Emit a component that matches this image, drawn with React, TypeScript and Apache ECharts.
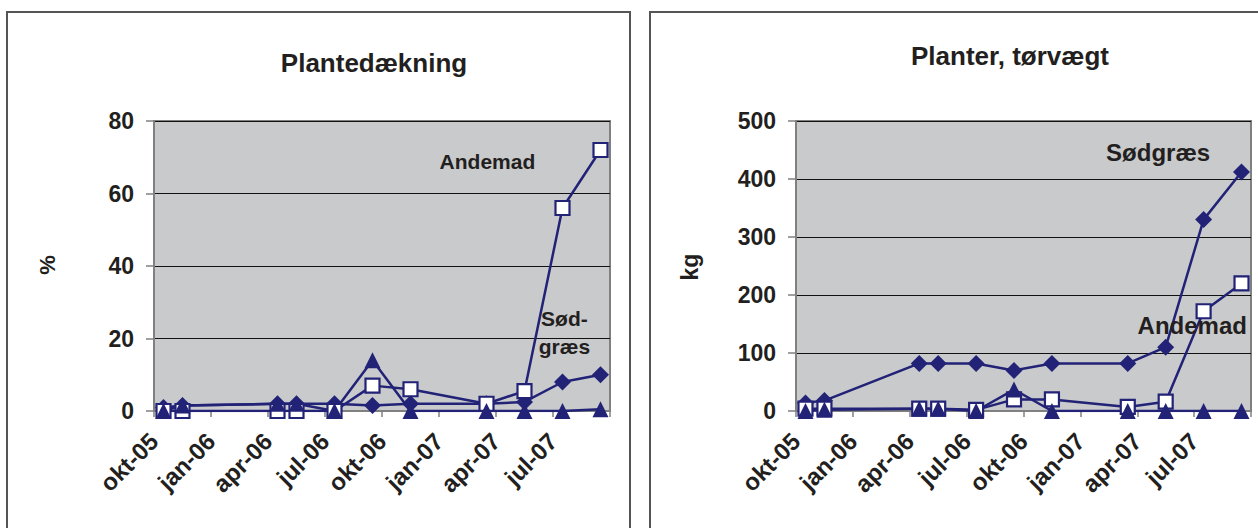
import React, { useEffect, useRef } from "react";
import * as echarts from "echarts";

// ---- data ----
const sampleMonths = [
  "2005-10", "2005-11", "2006-04", "2006-05", "2006-07", "2006-09",
  "2006-11", "2007-03", "2007-05", "2007-07", "2007-09",
];
const axisStartMonth = "2005-10";
const tickLabels = ["okt-05", "jan-06", "apr-06", "jul-06", "okt-06", "jan-07", "apr-07", "jul-07"];

// Plantedækning (%)
const coverSoedgraes = [1, 1.5, 2, 2, 2, 1.5, 2, 2, 2.5, 8, 10];
const coverAndemad = [0, 0, 0, 0, 0, 7, 6, 2, 5.5, 56, 72];
const coverOther = [0, 1.5, 2, 2, 0, 14, 0, 0, 0, 0, 0.5];

// Planter, tørvægt (kg)
const weightSoedgraes = [14, 18, 82, 82, 82, 70, 82, 82, 110, 330, 412];
const weightAndemad = [4, 4, 4, 4, 2, 20, 20, 7, 16, 172, 220];
const weightOther = [0, 2, 4, 4, 0, 37, 0, 0, 0, 0, 0];

const FONT = "'Liberation Sans', Arial, sans-serif";
const NAVY = "#222277";
const TEXT = "#231f20";
const PLOT_BG = "#c9cacc";

function monthIndex(s: string): number {
  const [y, m] = s.split("-").map(Number);
  const [y0, m0] = axisStartMonth.split("-").map(Number);
  return (y - y0) * 12 + (m - m0);
}

function pairs(vals: number[]): number[][] {
  return sampleMonths.map((d, i) => [monthIndex(d) + 0.5, vals[i]]);
}

function makeSeries(grid: number, soed: number[], ande: number[], other: number[]) {
  const common = {
    type: "line",
    xAxisIndex: grid,
    yAxisIndex: grid,
    lineStyle: { color: NAVY, width: 2.5 },
    showAllSymbol: true,
  };
  return [
    {
      ...common,
      name: "Sødgræs",
      data: pairs(soed),
      symbol: "diamond",
      symbolSize: 17,
      itemStyle: { color: NAVY, borderColor: NAVY, borderWidth: 0 },
    },
    {
      ...common,
      name: "Andemad",
      data: pairs(ande),
      symbol: "rect",
      symbolSize: 14,
      itemStyle: { color: "#ffffff", borderColor: NAVY, borderWidth: 2.2 },
    },
    {
      ...common,
      name: "Øvrige",
      data: pairs(other),
      symbol: "triangle",
      symbolSize: 16,
      itemStyle: { color: NAVY, borderColor: NAVY, borderWidth: 0 },
    },
  ];
}

function xAxisDef(grid: number) {
  return {
    type: "value",
    gridIndex: grid,
    min: 0,
    max: 24,
    interval: 3,
    axisLine: { show: true, lineStyle: { color: "#808080", width: 2 } },
    axisTick: { show: true, length: 6, inside: false, lineStyle: { color: "#808080", width: 1.5 } },
    splitLine: { show: false },
    axisLabel: {
      rotate: 45,
      margin: 26,
      fontSize: 24,
      fontWeight: "bold",
      fontFamily: FONT,
      color: TEXT,
      formatter: (v: number) => tickLabels[Math.round(v / 3)] ?? "",
      showMaxLabel: true,
    },
  };
}

function yAxisDef(grid: number, max: number, interval: number) {
  return {
    type: "value",
    gridIndex: grid,
    min: 0,
    max,
    interval,
    axisLine: { show: true, lineStyle: { color: "#808080", width: 2 } },
    axisTick: { show: true, length: 8, lineStyle: { color: "#808080", width: 1.5 } },
    splitLine: { show: true, lineStyle: { color: "#111111", width: 1 } },
    axisLabel: {
      margin: 20,
      fontSize: 23,
      fontWeight: "bold",
      fontFamily: FONT,
      color: TEXT,
    },
  };
}

// annotations in data coordinates (month units, value units)
const annotationGrid = [0, 0, 1, 1];
const annotationText = ["Andemad", "Sød-\ngræs", "Sødgræs", "Andemad"];
const annotationX = [17.55, 21.6, 19.1, 20.9];
const annotationY = [68.7, 21.6, 446, 148];
const annotationSize = [21, 21, 24, 24];

export default function App() {
  const ref = useRef<HTMLDivElement>(null);

  useEffect(() => {
    if (!ref.current) return;
    const chart = echarts.init(ref.current, null, { renderer: "svg" });
    const gridCommon = {
      show: true,
      backgroundColor: PLOT_BG,
      borderColor: "#808080",
      borderWidth: 2,
      containLabel: false,
      outerBoundsMode: "none",
    };
    chart.setOption({
      animation: false,
      backgroundColor: "#ffffff",
      grid: [
        { ...gridCommon, left: 154, top: 121, width: 456, height: 290 },
        { ...gridCommon, left: 796, top: 121, width: 455, height: 290 },
      ],
      xAxis: [xAxisDef(0), xAxisDef(1)],
      yAxis: [yAxisDef(0, 80, 20), yAxisDef(1, 500, 100)],
      series: [
        ...makeSeries(0, coverSoedgraes, coverAndemad, coverOther),
        ...makeSeries(1, weightSoedgraes, weightAndemad, weightOther),
      ],
    });

    const annos = annotationText.map((t, i) => {
      const p = chart.convertToPixel({ gridIndex: annotationGrid[i] }, [annotationX[i], annotationY[i]]) as number[];
      return {
        type: "text",
        x: p[0],
        y: p[1],
        z: 100,
        style: {
          text: t,
          fill: TEXT,
          font: `bold ${annotationSize[i]}px ${FONT}`,
          align: "center",
          verticalAlign: "middle",
          lineHeight: 28,
        },
      };
    });

    chart.setOption({
      graphic: [
        {
          type: "rect",
          shape: { x: 7, y: 12, width: 623, height: 540 },
          style: { fill: "none", stroke: "#555555", lineWidth: 2 },
          silent: true,
        },
        {
          type: "rect",
          shape: { x: 650, y: 12, width: 640, height: 540 },
          style: { fill: "none", stroke: "#555555", lineWidth: 2 },
          silent: true,
        },
        {
          type: "text",
          x: 374,
          y: 63,
          style: { text: "Plantedækning", fill: TEXT, font: `bold 26px ${FONT}`, align: "center", verticalAlign: "middle" },
        },
        {
          type: "text",
          x: 1010,
          y: 56,
          style: { text: "Planter, tørvægt", fill: TEXT, font: `bold 26px ${FONT}`, align: "center", verticalAlign: "middle" },
        },
        {
          type: "text",
          x: 47,
          y: 265,
          rotation: Math.PI / 2,
          style: { text: "%", fill: TEXT, font: `bold 22px ${FONT}`, align: "center", verticalAlign: "middle" },
        },
        {
          type: "text",
          x: 690,
          y: 267,
          rotation: Math.PI / 2,
          style: { text: "kg", fill: TEXT, font: `bold 23px ${FONT}`, align: "center", verticalAlign: "middle" },
        },
        ...annos,
      ],
    });

    return () => chart.dispose();
  }, []);

  return (
    <div
      style={{ position: "fixed", left: 0, top: 0, width: 1258, height: 528, background: "#ffffff" }}
    >
      <div ref={ref} style={{ width: 1258, height: 528 }} />
    </div>
  );
}
